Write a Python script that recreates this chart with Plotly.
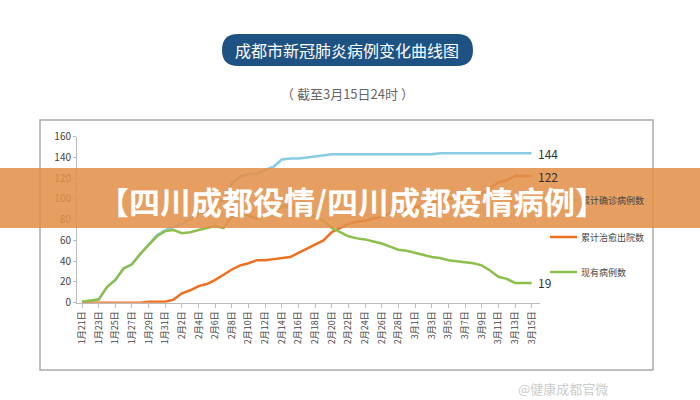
import plotly.graph_objects as go

# dates Jan 21 .. Mar 15 (2020)
dates = [f"1月{d}日" for d in range(21, 32)] + [f"2月{d}日" for d in range(1, 30)] + [f"3月{d}日" for d in range(1, 16)]

confirmed = [1, 2, 3, 15, 22, 33, 37, 47, 56, 65, 70, 73, 76, 80, 86, 90, 96, 99, 115, 122,
             124, 124, 128, 131, 138, 139, 139, 140, 141, 142, 143, 143, 143, 143, 143, 143, 143, 143, 143, 143,
             143, 143, 143, 144, 144, 144, 144, 144, 144, 144, 144, 144, 144, 144, 144]
recovered = [0, 0, 0, 0, 0, 0, 0, 0, 1, 1, 1, 3, 9, 12, 16, 18, 22, 27, 32, 36,
             38, 41, 41, 42, 43, 44, 48, 52, 56, 60, 68, 72, 76, 78, 79, 81, 83, 86, 89, 90,
             92, 94, 96, 98, 100, 101, 102, 103, 105, 110, 116, 118, 122, 122, 122]
current = [1, 2, 3, 15, 22, 33, 37, 47, 55, 64, 69, 70, 67, 68, 70, 72, 74, 72, 83, 86,
           84, 81, 85, 87, 93, 93, 89, 86, 83, 79, 72, 68, 64, 62, 61, 59, 57, 54, 51, 50,
           48, 46, 44, 43, 41, 40, 39, 38, 36, 31, 25, 23, 19, 19, 19]

names = ["累计确诊病例数", "累计治愈出院数", "现有病例数"]
colors = ["#86cce4", "#ee6f1f", "#8dbf4c"]
series = [confirmed, recovered, current]

x = list(range(len(dates)))
fig = go.Figure()
for s, c in zip(series, colors):
    fig.add_trace(go.Scatter(x=x, y=s, mode="lines", line=dict(color=c, width=2.5), showlegend=False))

font = "Noto Sans CJK SC"
ann = []
for s, lab_y in zip(series, [144, 122, 19]):
    ann.append(dict(x=54, y=lab_y, xref="x", yref="y", text=str(lab_y), showarrow=False,
                    xanchor="left", yanchor="middle", xshift=4, font=dict(size=12, color="#333")))
shapes = []
for name, c, py in zip(names, colors, [200, 237, 272]):
    yy = 1 - py / 400
    shapes.append(dict(type="line", xref="paper", yref="paper", x0=550/700, x1=577/700, y0=yy, y1=yy,
                       line=dict(color=c, width=2.5)))
    ann.append(dict(x=579/700, y=yy, xref="paper", yref="paper", text=name, showarrow=False,
                    xanchor="left", yanchor="middle", font=dict(size=9, color="#444")))

# frame, title pill, banner
shapes.append(dict(type="rect", xref="paper", yref="paper", x0=40/700, x1=653/700, y0=1-370/400, y1=1-120/400,
                   line=dict(color="#aaa", width=1.5), layer="below"))
pill = "M 238,34 L 457,34 Q 473,34 473,50 Q 473,66 457,66 L 238,66 Q 222,66 222,50 Q 222,34 238,34 Z"
# convert pixel path to paper coords
def px_path(p):
    out = []
    for tok in p.split():
        if "," in tok:
            a, b = tok.split(",")
            out.append(f"{float(a)/700:.4f},{1-float(b)/400:.4f}")
        else:
            out.append(tok)
    return " ".join(out)
shapes.append(dict(type="path", xref="paper", yref="paper", path=px_path(pill),
                   fillcolor="#1d5282", line=dict(width=0), layer="below"))
shapes.append(dict(type="rect", xref="paper", yref="paper", x0=0, x1=1, y0=1-228/400, y1=1-168/400,
                   fillcolor="rgba(226,145,75,0.88)", line=dict(width=0), layer="above"))
ann.append(dict(x=347/700, y=1-50/400, xref="paper", yref="paper", text="成都市新冠肺炎病例变化曲线图",
                showarrow=False, yanchor="middle", font=dict(family=font, size=16, color="white")))
ann.append(dict(x=347/700, y=1-93/400, xref="paper", yref="paper", text="（ 截至3月15日24时 ）",
                showarrow=False, yanchor="middle", font=dict(family=font, size=13, color="#666")))
ann.append(dict(x=352/700, y=1-200/400, xref="paper", yref="paper", text="<b>【四川成都役情/四川成都疫情病例】</b>",
                showarrow=False, yanchor="middle", font=dict(family=font, size=31, color="white")))
ann.append(dict(x=610/700, y=1-388/400, xref="paper", yref="paper", text="@健康成都官微",
                showarrow=False, yanchor="middle", font=dict(family=font, size=13, color="rgba(150,150,150,0.5)")))

fig.update_layout(
    width=700, height=400, margin=dict(l=0, r=0, t=0, b=0, autoexpand=False),
    paper_bgcolor="white", plot_bgcolor="white",
    font=dict(family=font, size=10, color="#444"),
    xaxis=dict(domain=[77/700, 540/700], range=[-0.6, 55], tickvals=x[::2], ticktext=dates[::2],
               tickangle=-90, showgrid=False, showline=True, linecolor="#bbb", ticks="outside",
               tickcolor="#bbb", ticklen=4, tickfont=dict(size=9), zeroline=False, automargin=False),
    yaxis=dict(domain=[1-302.7/400, 1-136.7/400], range=[0, 160], dtick=20, showgrid=False,
               showline=True, linecolor="#bbb", ticks="outside", tickcolor="#bbb", ticklen=3,
               tickfont=dict(size=10), zeroline=False, automargin=False),
    shapes=shapes, annotations=ann,
)

fig.write_html("out.html", config={"displayModeBar": False},
               post_script="document.body.style.margin='0';")
